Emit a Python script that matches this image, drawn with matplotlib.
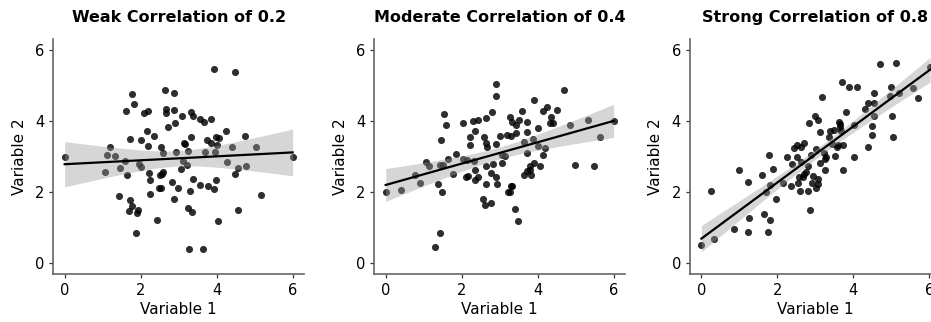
import numpy as np
import matplotlib
matplotlib.use("Agg")
import matplotlib.pyplot as plt

plt.rcParams["font.family"] = ["DejaVu Sans"]

titles = ["Weak Correlation of 0.2", "Moderate Correlation of 0.4", "Strong Correlation of 0.8"]
x_label = "Variable 1"
y_label = "Variable 2"
ticks = [0, 2, 4, 6]

weak_x = [0.00, 1.05, 1.18, 1.12, 1.33, 1.45, 1.44, 1.60, 1.65, 1.73, 1.76, 1.83, 1.61, 1.71, 1.78,
          1.70, 1.93, 1.91, 1.89, 2.00, 1.95, 2.00, 2.10, 2.19, 2.17, 2.20, 2.34, 2.23, 2.25, 2.24,
          2.44, 2.49, 2.53, 2.52, 2.57, 2.60, 2.53, 2.60, 2.65, 2.66, 2.66, 2.72, 2.88, 2.89, 2.91,
          2.88, 2.83, 2.93, 2.99, 3.09, 3.13, 3.18, 3.05, 3.33, 3.38, 3.55, 3.67, 3.85, 3.33, 3.75,
          3.86, 3.98, 4.05, 4.01, 4.25, 4.75, 3.25, 3.70, 3.97, 4.40, 5.03, 6.00, 3.11, 3.23, 4.27,
          4.55, 4.77, 4.48, 3.37, 3.99, 3.57, 3.77, 3.94, 3.30, 5.17, 3.24, 3.34, 4.56, 4.04, 3.28,
          3.63, 3.92, 4.48]
weak_y = [3.00, 2.56, 3.26, 3.03, 3.01, 2.69, 1.88, 2.86, 2.47, 3.50, 4.75, 4.48, 4.28, 1.79, 1.61,
          1.46, 1.51, 1.41, 0.84, 3.47, 2.79, 2.70, 4.23, 4.28, 3.72, 3.30, 3.58, 2.54, 2.33, 1.94,
          1.21, 2.12, 2.12, 2.47, 2.51, 2.56, 3.28, 3.09, 4.86, 4.33, 4.21, 3.83, 4.79, 4.30, 3.95,
          1.82, 2.28, 3.12, 2.12, 4.14, 3.37, 3.35, 2.65, 4.25, 4.14, 4.04, 3.96, 4.04, 3.56, 3.46,
          3.39, 3.54, 3.52, 3.32, 3.73, 3.58, 3.15, 3.12, 3.12, 3.26, 3.28, 3.00, 2.86, 2.77, 2.84,
          2.68, 2.72, 2.50, 2.36, 2.35, 2.20, 2.16, 2.08, 2.03, 1.91, 1.54, 1.45, 1.51, 1.19, 0.39,
          0.39, 5.47, 5.38]

moderate_x = [0.00, 0.39, 0.77, 0.89, 1.07, 1.13, 1.37, 1.49, 1.42, 1.31, 1.46, 1.53, 1.59, 1.42, 1.50,
              1.63, 1.78, 1.84, 2.03, 2.03, 2.13, 2.12, 2.16, 2.21, 2.21, 2.31, 2.42, 2.36, 2.32, 2.34,
              2.36, 2.42, 2.65, 2.79, 2.58, 2.65, 2.66, 2.63, 2.65, 2.55, 2.61, 2.78, 2.77, 2.82, 2.91,
              2.91, 2.91, 2.91, 2.94, 3.02, 3.19, 3.30, 3.42, 3.27, 3.32, 3.44, 3.50, 3.58, 3.72, 3.72,
              3.90, 4.02, 4.15, 4.24, 4.34, 4.32, 4.40, 4.52, 4.69, 4.84, 5.32, 5.63, 6.00, 4.99, 5.48,
              3.06, 3.13, 3.06, 3.29, 3.32, 3.23, 3.28, 3.41, 3.49, 3.64, 3.89, 3.73, 4.02, 4.20, 4.15,
              4.06, 3.90, 3.81, 3.79, 3.83, 3.72, 3.65]
moderate_y = [2.00, 2.07, 2.49, 2.25, 2.84, 2.73, 2.22, 1.99, 0.85, 0.46, 3.46, 4.20, 3.88, 2.75, 2.76,
              2.93, 2.51, 3.07, 3.95, 2.92, 2.89, 2.42, 2.44, 3.54, 3.33, 4.00, 4.02, 3.72, 2.87, 2.61,
              2.33, 2.42, 4.08, 4.26, 3.56, 3.37, 3.26, 2.74, 2.22, 1.80, 1.64, 1.69, 2.53, 2.79, 5.04,
              4.70, 3.35, 2.42, 2.22, 3.58, 3.59, 3.58, 3.65, 4.10, 3.98, 3.88, 4.02, 4.28, 3.98, 3.68,
              4.58, 3.79, 4.27, 4.40, 4.11, 3.94, 3.94, 4.31, 4.86, 3.89, 4.03, 3.56, 4.00, 2.76, 2.72,
              3.03, 3.02, 2.81, 2.17, 2.16, 1.99, 2.01, 1.52, 1.19, 3.42, 3.48, 3.10, 3.29, 3.24, 3.05,
              2.72, 2.81, 2.74, 2.63, 2.47, 2.59, 2.49]

strong_x = [0.00, 0.33, 0.24, 0.86, 0.99, 1.22, 1.26, 1.23, 1.60, 1.64, 1.80, 1.75, 1.79, 1.70, 1.80,
            1.89, 1.96, 2.14, 2.25, 2.35, 2.38, 2.44, 2.51, 2.62, 2.70, 2.53, 2.57, 2.55, 2.60, 2.62,
            2.70, 2.75, 2.68, 2.81, 2.81, 2.84, 2.86, 2.88, 2.94, 2.91, 2.99, 3.07, 3.18, 3.13, 3.03,
            3.23, 3.28, 3.25, 3.12, 3.26, 3.51, 3.36, 3.39, 3.48, 3.62, 3.64, 3.65, 3.67, 3.43, 3.57,
            3.60, 3.73, 3.72, 3.71, 3.88, 4.09, 3.81, 4.02, 4.02, 4.32, 4.38, 4.54, 4.54, 4.55, 4.48,
            4.50, 4.39, 4.69, 5.13, 4.99, 4.96, 5.21, 5.02, 5.05, 5.57, 5.70, 6.02, 3.06, 3.07, 3.01]
strong_y = [0.51, 0.68, 2.03, 0.95, 2.62, 2.29, 1.26, 0.87, 2.47, 1.38, 1.23, 0.87, 3.03, 2.00, 2.20,
            2.66, 1.82, 2.26, 3.00, 2.16, 2.79, 3.24, 3.33, 3.26, 3.38, 3.00, 2.42, 2.25, 2.03, 2.84,
            2.51, 2.56, 2.42, 2.72, 2.03, 3.93, 1.51, 3.05, 2.45, 2.25, 4.13, 4.03, 4.67, 3.70, 3.21,
            3.09, 2.98, 2.92, 2.81, 2.63, 3.02, 3.56, 3.72, 3.75, 3.97, 3.91, 3.82, 3.72, 3.35, 3.26,
            3.33, 3.32, 2.62, 5.08, 4.95, 4.95, 4.25, 3.00, 3.88, 4.32, 4.51, 4.78, 4.49, 4.14, 3.86,
            3.61, 3.27, 5.59, 5.64, 4.95, 4.69, 4.79, 4.13, 3.55, 4.93, 4.64, 5.51, 2.36, 2.23, 2.12]

datasets = [(weak_x, weak_y), (moderate_x, moderate_y), (strong_x, strong_y)]


def smooth_fit(x, y):
    # linear fit with 95% confidence band, like geom_smooth(method = "lm")
    x = np.array(x)
    y = np.array(y)
    n = len(x)
    slope, intercept = np.polyfit(x, y, 1)
    resid = y - (slope * x + intercept)
    s = np.sqrt(np.sum(resid ** 2) / (n - 2))
    sxx = np.sum((x - x.mean()) ** 2)
    xs = np.linspace(x.min(), x.max(), 100)
    ys = slope * xs + intercept
    se = s * np.sqrt(1.0 / n + (xs - x.mean()) ** 2 / sxx)
    return xs, ys, ys - 1.985 * se, ys + 1.985 * se


fig = plt.figure(figsize=(9.31, 3.22), dpi=100)
lefts = [53.3 / 931, 374.3 / 931, 690 / 931]

for left, title, (x, y) in zip(lefts, titles, datasets):
    ax = fig.add_axes([left, 48 / 322, 250.7 / 931, 235 / 322])
    ax.scatter(x, y, s=26, color="black", alpha=0.82, linewidths=0, zorder=2)
    xs, ys, lo, hi = smooth_fit(x, y)
    ax.fill_between(xs, lo, hi, color="#999999", alpha=0.4, linewidth=0, zorder=3)
    ax.plot(xs, ys, color="black", linewidth=1.6, zorder=4)

    ax.set_xlim(-0.3, 6.3)
    ax.set_ylim(-0.3, 6.3)
    ax.set_xticks(ticks)
    ax.set_yticks(ticks)
    for side in ["top", "right"]:
        ax.spines[side].set_visible(False)
    for side in ["left", "bottom"]:
        ax.spines[side].set_color("#666666")
        ax.spines[side].set_linewidth(1.2)
    ax.tick_params(colors="#333333", labelcolor="black", labelsize=10.5, length=3, width=0.9)
    ax.set_xlabel(x_label, fontsize=11, labelpad=3)
    ax.set_ylabel(y_label, fontsize=11, labelpad=6)
    ax.set_title(title, fontsize=11.5, fontweight="bold", pad=12)

fig.savefig("out.png", dpi=100)
